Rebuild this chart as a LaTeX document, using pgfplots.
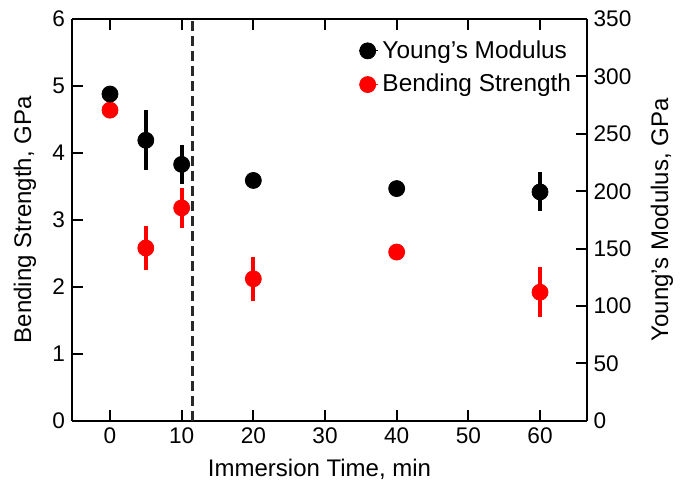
\documentclass[border=0pt]{standalone}
\usepackage{pgfplots}
\pgfplotsset{compat=1.18}
\usepackage{fontspec}
\setmainfont{Liberation Sans}
\definecolor{dgray}{RGB}{40,40,40}
\begin{document}
\begin{tikzpicture}
\path[use as bounding box] (0,0) rectangle (341.5pt,239.5pt);
\pgfplotsset{
  common/.style={
    at={(36pt,29.15pt)}, anchor=south west,
    scale only axis, width=257.3pt, height=200.8pt,
    xmin=-5.3, xmax=66.5,
    tick align=inside,
    major tick length=5.5pt,
    every tick/.style={line width=1pt, black},
    axis line style={line width=1pt},
    tick label style={font=\fontsize{11.3}{13}\selectfont},
    label style={font=\fontsize{12}{14}\selectfont},
    /pgf/number format/assume math mode=true,
  }
}
\begin{axis}[common,
  ymin=0, ymax=6, ytick={0,1,2,3,4,5,6},
  xtick={0,10,20,30,40,50,60},
  ytick pos=left, xtick pos=both,
  xlabel={Immersion Time, min},
  ylabel={Bending Strength, GPa},
  xlabel style={at={(axis description cs:0.481,-0.1377)}, anchor=base},
  ylabel style={at={(axis description cs:-0.0915,0.5)}, anchor=center, rotate=0},
  axis y line*=left,
  axis x line*=box,
]
\addplot[dgray, line width=1.2pt, dash pattern=on 5pt off 2.5pt] coordinates {(11.5,0) (11.5,6)};
\addplot[only marks, mark=*, mark size=4pt, red, mark options={draw=red, fill=red},
  error bars/.cd, y dir=both, y explicit, error mark=none,
  error bar style={line width=2pt, red}]
  coordinates {
  (0,4.64)
  (5,2.58) +- (0,0.33)
  (10,3.18) +- (0,0.30)
  (20,2.12) +- (0,0.33)
  (40,2.52)
  (60,1.92) +- (0,0.375)
  };
\end{axis}
\begin{axis}[common,
  ymin=0, ymax=350, ytick={0,50,100,150,200,250,300,350},
  axis y line*=right, axis x line=none,
  ylabel={Young’s Modulus, GPa},
  ylabel style={at={(axis description cs:1.1463,0.5)}, anchor=center},
  legend style={draw=none, fill=none, at={(0.99,0.9676)}, anchor=north east,
    font=\fontsize{12.2}{14}\selectfont, row sep=2.5pt,
    legend cell align=left},
  legend image code/.code={\draw[#1] plot coordinates {(0pt,0)}; \path (-4.3pt,0) -- (5.2pt,0);},
]
\addplot[only marks, mark=*, mark size=4pt, black,
  error bars/.cd, y dir=both, y explicit, error mark=none,
  error bar style={line width=2pt, black}]
  coordinates {
  (0,284.7)
  (5,244.4) +- (0,26.3)
  (10,223.4) +- (0,17)
  (20,209.4)
  (40,202.3)
  (60,199.4) +- (0,17)
  };
\addlegendentry{Young’s Modulus}
\addlegendimage{only marks, mark=*, mark size=4pt, red, mark options={fill=red}}
\addlegendentry{Bending Strength}
\end{axis}
\end{tikzpicture}
\end{document}
